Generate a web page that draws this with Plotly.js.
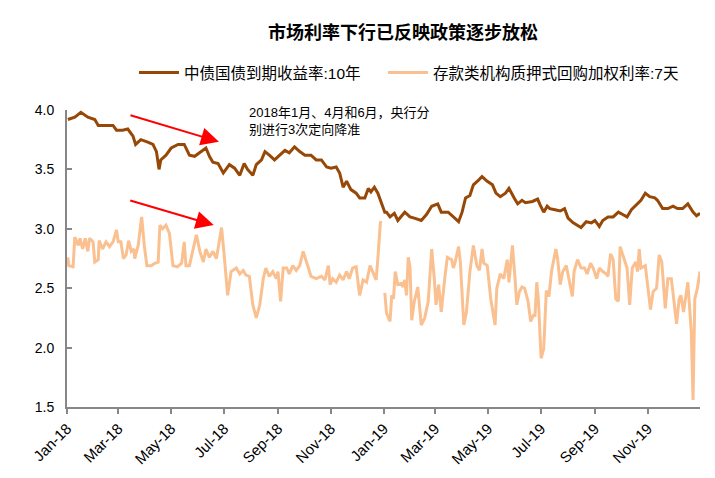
<!DOCTYPE html>
<html>
<head>
<meta charset="utf-8">
<script src="https://cdn.plot.ly/plotly-3.0.1.min.js"></script>
<style>html,body{margin:0;padding:0;background:#fff;}#chart{width:715px;height:478px;}</style>
</head>
<body>
<div id="chart"></div>
<script>
// 中债国债到期收益率:10年 (%)
var bondDates = ["2018-01-02","2018-01-06","2018-01-10","2018-01-17","2018-01-25","2018-02-02","2018-02-06","2018-02-13","2018-02-23","2018-02-27",
"2018-03-06","2018-03-12","2018-03-18","2018-03-21","2018-03-27","2018-04-04","2018-04-10","2018-04-14","2018-04-17","2018-04-19",
"2018-04-25","2018-05-01","2018-05-09","2018-05-16","2018-05-22","2018-05-28","2018-06-05","2018-06-10","2018-06-14","2018-06-18",
"2018-06-24","2018-06-30","2018-07-03","2018-07-07","2018-07-13","2018-07-19","2018-07-24","2018-07-28","2018-08-03","2018-08-07",
"2018-08-13","2018-08-17","2018-08-22","2018-08-28","2018-09-03","2018-09-09","2018-09-14","2018-09-20","2018-09-26","2018-10-02",
"2018-10-09","2018-10-15","2018-10-21","2018-10-27","2018-11-01","2018-11-07","2018-11-11","2018-11-15","2018-11-19","2018-11-24",
"2018-11-30","2018-12-04","2018-12-10","2018-12-14","2018-12-17","2018-12-21","2018-12-25","2018-12-29","2019-01-02","2019-01-04",
"2019-01-08","2019-01-13","2019-01-17","2019-01-25","2019-01-31","2019-02-05","2019-02-13","2019-02-19","2019-02-25","2019-03-04",
"2019-03-08","2019-03-16","2019-03-22","2019-03-28","2019-04-01","2019-04-05","2019-04-10","2019-04-14","2019-04-20","2019-04-24",
"2019-04-30","2019-05-06","2019-05-10","2019-05-15","2019-05-21","2019-05-25","2019-05-31","2019-06-04","2019-06-09","2019-06-13",
"2019-06-21","2019-06-27","2019-06-30","2019-07-04","2019-07-08","2019-07-11","2019-07-17","2019-07-23","2019-07-28","2019-08-01",
"2019-08-07","2019-08-13","2019-08-16","2019-08-22","2019-08-28","2019-09-01","2019-09-06","2019-09-10","2019-09-16","2019-09-22",
"2019-09-28","2019-10-03","2019-10-08","2019-10-13","2019-10-19","2019-10-24","2019-10-29","2019-11-03","2019-11-09","2019-11-12",
"2019-11-18","2019-11-24","2019-11-30","2019-12-05","2019-12-11","2019-12-17","2019-12-23","2019-12-27","2019-12-31"];
var bondYield = [3.92,3.93,3.94,3.98,3.94,3.92,3.87,3.87,3.87,3.83,
3.83,3.84,3.78,3.71,3.75,3.73,3.71,3.65,3.50,3.58,
3.62,3.68,3.71,3.71,3.62,3.61,3.65,3.68,3.61,3.56,
3.55,3.47,3.50,3.54,3.51,3.45,3.55,3.50,3.45,3.54,
3.58,3.65,3.62,3.58,3.62,3.66,3.64,3.69,3.65,3.62,
3.62,3.58,3.58,3.52,3.51,3.52,3.47,3.35,3.40,3.33,
3.30,3.26,3.26,3.34,3.31,3.35,3.30,3.21,3.14,3.14,
3.10,3.13,3.07,3.14,3.10,3.09,3.07,3.12,3.19,3.21,
3.14,3.14,3.10,3.06,3.14,3.26,3.28,3.37,3.41,3.44,
3.40,3.37,3.30,3.27,3.30,3.34,3.26,3.21,3.24,3.22,
3.23,3.25,3.20,3.14,3.19,3.17,3.16,3.15,3.17,3.09,
3.05,3.02,3.01,3.06,3.05,3.07,3.02,3.07,3.10,3.10,
3.14,3.12,3.10,3.16,3.20,3.24,3.30,3.27,3.26,3.24,
3.17,3.17,3.19,3.17,3.17,3.21,3.14,3.11,3.13];

// 存款类机构质押式回购加权利率:7天 (%)
var repoDates = ["2018-01-02","2018-01-03","2018-01-08","2018-01-10","2018-01-14","2018-01-16","2018-01-19","2018-01-22","2018-01-25","2018-01-27",
"2018-01-31","2018-02-02","2018-02-06","2018-02-07","2018-02-11","2018-02-15","2018-02-19","2018-02-23","2018-02-27","2018-03-01",
"2018-03-04","2018-03-07","2018-03-10","2018-03-13","2018-03-16","2018-03-19","2018-03-20","2018-03-24","2018-03-25","2018-03-28",
"2018-03-31","2018-04-03","2018-04-08","2018-04-12","2018-04-16","2018-04-18","2018-04-21","2018-04-25","2018-04-29","2018-05-03",
"2018-05-08","2018-05-13","2018-05-16","2018-05-18","2018-05-22","2018-05-26","2018-05-30","2018-06-03","2018-06-07","2018-06-10",
"2018-06-14","2018-06-18","2018-06-22","2018-06-26","2018-06-28","2018-07-01","2018-07-05","2018-07-09","2018-07-15","2018-07-19",
"2018-07-23","2018-07-26","2018-07-30","2018-08-03","2018-08-07","2018-08-11","2018-08-15","2018-08-18","2018-08-22","2018-08-26",
"2018-08-30","2018-09-01","2018-09-04","2018-09-07","2018-09-11","2018-09-14","2018-09-18","2018-09-22","2018-09-26","2018-09-30",
"2018-10-04","2018-10-09","2018-10-15","2018-10-21","2018-10-25","2018-10-29","2018-10-31","2018-11-03","2018-11-07","2018-11-11",
"2018-11-15","2018-11-19","2018-11-22","2018-11-26","2018-11-30","2018-12-04","2018-12-08","2018-12-12","2018-12-16","2018-12-19",
"2018-12-23","2018-12-25","2018-12-28","2018-12-29","2018-12-31","2019-01-02","2019-01-04","2019-01-08","2019-01-10","2019-01-12",
"2019-01-14","2019-01-17","2019-01-21","2019-01-23","2019-01-25","2019-01-27","2019-01-29","2019-01-31","2019-02-02","2019-02-05",
"2019-02-09","2019-02-13","2019-02-17","2019-02-21","2019-02-25","2019-02-28","2019-03-02","2019-03-05","2019-03-08","2019-03-12",
"2019-03-15","2019-03-20","2019-03-22","2019-03-24","2019-03-28","2019-03-30","2019-04-03","2019-04-06","2019-04-10","2019-04-14",
"2019-04-18","2019-04-21","2019-04-24","2019-04-26","2019-04-30","2019-05-04","2019-05-09","2019-05-11","2019-05-15","2019-05-19",
"2019-05-23","2019-05-25","2019-05-29","2019-06-01","2019-06-03","2019-06-06","2019-06-09","2019-06-12","2019-06-16","2019-06-19",
"2019-06-22","2019-06-24","2019-06-26","2019-06-28","2019-07-01","2019-07-04","2019-07-07","2019-07-10","2019-07-13","2019-07-18",
"2019-07-20","2019-07-23","2019-07-26","2019-07-30","2019-08-02","2019-08-06","2019-08-08","2019-08-12","2019-08-16","2019-08-20",
"2019-08-23","2019-08-27","2019-08-30","2019-09-03","2019-09-06","2019-09-10","2019-09-14","2019-09-16","2019-09-19","2019-09-22",
"2019-09-25","2019-09-28","2019-09-30","2019-10-03","2019-10-08","2019-10-11","2019-10-14","2019-10-18","2019-10-20","2019-10-22",
"2019-10-24","2019-10-29","2019-11-01","2019-11-04","2019-11-07","2019-11-11","2019-11-14","2019-11-17","2019-11-21","2019-11-24",
"2019-11-28","2019-12-01","2019-12-04","2019-12-07","2019-12-09","2019-12-12","2019-12-15","2019-12-17","2019-12-21","2019-12-23",
"2019-12-25","2019-12-28","2019-12-31"];
var repoRate = [2.76,2.69,2.68,2.93,2.86,2.92,2.83,2.92,2.81,2.92,
2.89,2.72,2.74,2.90,2.83,2.89,2.85,2.89,2.99,2.89,
2.89,2.75,2.78,2.90,2.81,2.83,2.75,2.86,2.92,3.10,
2.86,2.69,2.69,2.71,2.72,3.03,3.00,3.03,2.96,2.69,
2.68,2.71,2.89,2.69,2.69,2.83,2.95,2.81,2.72,2.83,
2.76,2.81,2.75,2.92,3.01,2.78,2.44,2.64,2.67,2.62,
2.65,2.61,2.60,2.36,2.25,2.36,2.58,2.67,2.60,2.64,
2.58,2.64,2.39,2.67,2.67,2.62,2.69,2.65,2.69,2.81,
2.72,2.60,2.58,2.60,2.57,2.69,2.53,2.58,2.55,2.61,
2.57,2.64,2.58,2.67,2.68,2.44,2.57,2.55,2.69,2.64,
2.57,2.75,3.06,3.05,null,2.46,2.29,2.22,2.44,2.41,
2.64,2.53,2.54,2.51,2.57,2.44,2.76,2.68,2.23,2.39,
2.51,2.19,2.25,2.39,2.83,2.58,2.36,2.53,2.30,2.58,
2.76,2.74,2.67,2.72,2.85,2.72,2.19,2.30,2.64,2.86,
2.69,2.65,2.83,2.71,2.69,2.41,2.19,2.50,2.62,2.58,
2.74,2.55,2.86,2.58,2.36,2.47,2.51,2.50,2.39,2.22,
2.27,2.27,2.55,2.39,1.91,1.99,2.48,2.43,2.64,2.83,
2.75,2.53,2.64,2.69,2.58,2.43,2.64,2.74,2.67,2.67,
2.62,2.71,2.67,2.58,2.67,2.64,2.62,2.60,2.79,2.74,
2.41,2.39,2.85,2.78,2.67,2.36,2.67,2.72,2.64,2.83,
2.67,2.69,2.50,2.32,2.47,2.50,2.78,2.72,2.33,2.58,
2.58,2.36,2.20,2.41,2.44,2.30,2.47,2.55,2.13,1.56,
2.41,2.50,2.64];

var seriesNames = ["中债国债到期收益率:10年", "存款类机构质押式回购加权利率:7天"];
var yTicks = [1.5, 2.0, 2.5, 3.0, 3.5, 4.0];
var chartTitle = "市场利率下行已反映政策逐步放松";
var noteText = "2018年1月、4月和6月，央行分<br>别进行3次定向降准";

var FONT = "Liberation Sans, Arial, Noto Sans CJK SC, sans-serif";
var AXIS = "#878787";

var traces = [
  {x: bondDates, y: bondYield, type: "scatter", mode: "lines", name: seriesNames[0],
   line: {color: "#974806", width: 3}, legend: "legend"},
  {x: repoDates, y: repoRate, type: "scatter", mode: "lines", name: seriesNames[1],
   line: {color: "#FAC090", width: 3}, connectgaps: false, legend: "legend2"}
];

var legendBase = {orientation: "h", xref: "container", yref: "container", y: 1 - 73/478,
  xanchor: "left", yanchor: "middle", font: {family: FONT, size: 15.5, color: "#000"},
  itemwidth: 40, bgcolor: "rgba(0,0,0,0)"};

var layout = {
  width: 715, height: 478,
  margin: {l: 67, r: 15, t: 110, b: 71},
  paper_bgcolor: "#fff", plot_bgcolor: "#fff",
  font: {family: FONT, size: 14, color: "#000"},
  title: {text: chartTitle, x: 403/715, xref: "container", xanchor: "center",
          y: 1 - 33/478, yref: "container", yanchor: "middle",
          font: {family: "Noto Sans CJK SC, sans-serif", size: 18, weight: "bold", color: "#000"}},
  showlegend: true,
  legend: Object.assign({}, legendBase, {x: 134/715}),
  legend2: Object.assign({}, legendBase, {x: 383/715}),
  xaxis: {type: "date", range: ["2018-01-01", "2019-12-31"], tickformat: "%b-%y",
          dtick: "M2", tick0: "2018-01-01", tickangle: -45, ticks: "outside", ticklen: 5,
          tickwidth: 2, tickcolor: AXIS, showline: true, linecolor: AXIS, linewidth: 2,
          showgrid: false, zeroline: false, tickfont: {family: FONT, size: 15, color: "#000"}},
  yaxis: {range: [1.5, 4.0], tickvals: yTicks, tickformat: ".1f", ticks: "inside", ticklen: 5,
          tickwidth: 2, tickcolor: AXIS, showline: true, linecolor: AXIS, linewidth: 2,
          showgrid: false, zeroline: false, ticklabelstandoff: 8,
          tickfont: {family: FONT, size: 14, color: "#000"}},
  annotations: [
    {text: "(%)", xref: "paper", yref: "container", x: -0.02, y: 1 - 73/478, xanchor: "right",
     yanchor: "middle", showarrow: false, font: {family: FONT, size: 11, color: "#000"}},
    {text: noteText, xref: "x", yref: "y", x: "2018-07-27", y: 3.907, xanchor: "left", yanchor: "middle",
     align: "left", showarrow: false, font: {family: FONT, size: 13, color: "#000"}},
    {x: "2018-06-25", y: 3.733, xref: "x", yref: "y", ax: -90, ay: -27, showarrow: true,
     arrowhead: 2, arrowsize: 1.8, arrowwidth: 2, arrowcolor: "#FF0000", text: ""},
    {x: "2018-06-19", y: 3.031, xref: "x", yref: "y", ax: -85, ay: -25, showarrow: true,
     arrowhead: 2, arrowsize: 1.8, arrowwidth: 2, arrowcolor: "#FF0000", text: ""}
  ]
};

Plotly.newPlot("chart", traces, layout, {staticPlot: true, displayModeBar: false});
</script>
</body>
</html>
